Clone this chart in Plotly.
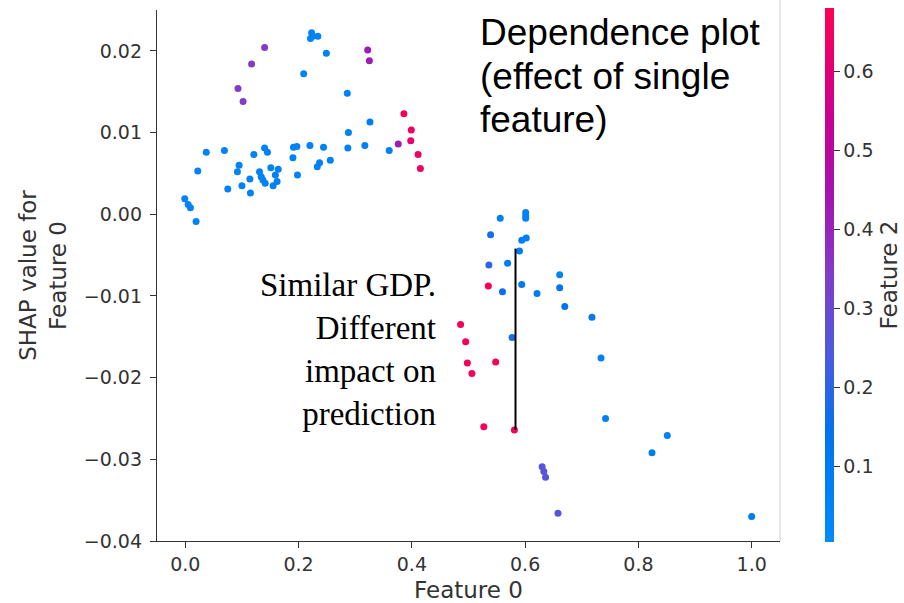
import plotly.graph_objects as go

# ---- data ----
feature0 = [
    # upper-left blue cluster
    -0.001, 0.005, 0.009, 0.019, 0.022, 0.037, 0.069, 0.075, 0.092, 0.095,
    0.100, 0.114, 0.115, 0.121, 0.131, 0.134, 0.137, 0.141, 0.140, 0.145,
    0.151, 0.155, 0.159, 0.162, 0.164, 0.190, 0.191, 0.197, 0.198, 0.220,
    0.233, 0.237, 0.244, 0.256, 0.287, 0.288, 0.317, 0.326, 0.360,
    # upper blue
    0.209, 0.223, 0.221, 0.225, 0.234, 0.249, 0.286,
    # upper purple
    0.093, 0.102, 0.117, 0.140, 0.322, 0.325,
    # magenta / red right of cluster
    0.376, 0.386, 0.399, 0.398, 0.411, 0.415,
    # lower-right group
    0.556, 0.601, 0.601, 0.601, 0.539, 0.594, 0.602, 0.590, 0.536, 0.569,
    0.535, 0.560, 0.594, 0.621, 0.661, 0.661, 0.670, 0.718, 0.486, 0.495,
    0.577, 0.498, 0.548, 0.506, 0.734, 0.742, 0.527, 0.581, 0.851, 0.824,
    0.630, 0.633, 0.636, 0.658, 1.000,
]
shap_values = [
    0.0019, 0.0012, 0.0008, -0.0009, 0.0053, 0.0076, 0.0078, 0.0031, 0.0052, 0.0060,
    0.0035, 0.0043, 0.0026, 0.0073, 0.0052, 0.0046, 0.0042, 0.0038, 0.0081, 0.0076,
    0.0057, 0.0035, 0.0048, 0.0040, 0.0055, 0.0069, 0.0082, 0.0083, 0.0048, 0.0084,
    0.0058, 0.0063, 0.0082, 0.0066, 0.0081, 0.0100, 0.0084, 0.0113, 0.0078,
    0.0172, 0.0222, 0.0215, 0.0218, 0.0218, 0.0197, 0.0148,
    0.0154, 0.0138, 0.0184, 0.0204, 0.0201, 0.0188,
    0.0086, 0.0123, 0.0103, 0.0090, 0.0073, 0.0056,
    -0.0005, 0.0002, -0.0002, -0.0005, -0.0025, -0.0032, -0.0029, -0.0045, -0.0062, -0.0060,
    -0.0088, -0.0095, -0.0086, -0.0097, -0.0074, -0.0090, -0.0113, -0.0126, -0.0135, -0.0156,
    -0.0151, -0.0182, -0.0181, -0.0195, -0.0176, -0.0250, -0.0260, -0.0264, -0.0271, -0.0292,
    -0.0309, -0.0315, -0.0322, -0.0366, -0.0370,
]
feature2 = [
    0.05, 0.05, 0.05, 0.05, 0.06, 0.05, 0.05, 0.06, 0.05, 0.06,
    0.05, 0.06, 0.05, 0.06, 0.05, 0.06, 0.05, 0.06, 0.05, 0.06,
    0.05, 0.06, 0.05, 0.06, 0.05, 0.06, 0.05, 0.06, 0.05, 0.06,
    0.06, 0.06, 0.06, 0.05, 0.06, 0.06, 0.06, 0.07, 0.06,
    0.05, 0.05, 0.05, 0.05, 0.05, 0.06, 0.06,
    0.34, 0.34, 0.34, 0.34, 0.42, 0.42,
    0.42, 0.66, 0.64, 0.62, 0.64, 0.64,
    0.05, 0.05, 0.05, 0.05, 0.17, 0.08, 0.08, 0.09, 0.20, 0.09,
    0.66, 0.16, 0.10, 0.10, 0.05, 0.13, 0.13, 0.10, 0.66, 0.66,
    0.17, 0.66, 0.66, 0.66, 0.06, 0.06, 0.66, 0.66, 0.06, 0.07,
    0.26, 0.26, 0.26, 0.26, 0.07,
]

# highlight segment (similar GDP, different impact)
line_x = [0.583, 0.583]
line_y = [-0.0042, -0.0264]

x_ticks = [0.0, 0.2, 0.4, 0.6, 0.8, 1.0]
x_ticklabels = ["0.0", "0.2", "0.4", "0.6", "0.8", "1.0"]
y_ticks = [0.02, 0.01, 0.0, -0.01, -0.02, -0.03, -0.04]
y_ticklabels = ["0.02", "0.01", "0.00", "\u22120.01", "\u22120.02", "\u22120.03", "\u22120.04"]
cb_ticks = [0.1, 0.2, 0.3, 0.4, 0.5, 0.6]

title_lines = ["Dependence plot", "(effect of single", "feature)"]

red_blue = [
    [0.0, "rgb(0,139,251)"],
    [0.2, "rgb(0,115,238)"],
    [0.35, "rgb(75,90,222)"],
    [0.5, "rgb(130,60,200)"],
    [0.65, "rgb(165,20,175)"],
    [0.8, "rgb(200,0,145)"],
    [1.0, "rgb(255,0,81)"],
]

FONT = "DejaVu Sans"
GREY = "#333333"

fig = go.Figure()
fig.add_trace(go.Scatter(
    x=feature0, y=shap_values, mode="markers",
    marker=dict(
        size=7, color=feature2, colorscale=red_blue, cmin=0.005, cmax=0.68,
        line=dict(width=0),
        colorbar=dict(
            title=dict(text="Feature 2", side="right",
                       font=dict(family=FONT, size=23, color=GREY)),
            thickness=9, thicknessmode="pixels",
            len=534, lenmode="pixels",
            x=1.0722, xanchor="left", xpad=0,
            y=0.501, yanchor="middle", ypad=0,
            outlinewidth=0,
            tickvals=cb_ticks, ticktext=[f"{v:.1f}" for v in cb_ticks],
            ticks="outside", ticklen=6, tickwidth=1, tickcolor=GREY,
            tickfont=dict(family=FONT, size=19, color=GREY),
        ),
    ),
    showlegend=False, hoverinfo="skip",
))
fig.add_trace(go.Scatter(
    x=line_x, y=line_y, mode="lines",
    line=dict(color="black", width=2), showlegend=False, hoverinfo="skip",
))

fig.add_annotation(
    xref="paper", yref="paper",
    x=(438 - 157) / 623, y=(541 - 265) / 531,
    xanchor="right", yanchor="top", align="right",
    text="Similar GDP.<br>Different<br>impact on<br>prediction",
    font=dict(family="Liberation Serif", size=33, color="black"),
    showarrow=False,
)
for i, line in enumerate(title_lines):
    top_px = 10 + 43.5 * i
    fig.add_annotation(
        xref="paper", yref="paper",
        x=(478 - 157) / 623, y=(541 - top_px) / 531,
        xanchor="left", yanchor="top", align="left",
        text=line,
        font=dict(family="Liberation Sans", size=37, color="black"),
        showarrow=False,
    )

# thin right border line seen in reference
fig.add_shape(type="line", xref="paper", yref="paper",
              x0=1.0, x1=1.0, y0=0, y1=541 / 531,
              line=dict(color="#cccccc", width=1))

fig.update_layout(
    width=904, height=603,
    margin=dict(l=157, r=124, t=10, b=62, autoexpand=False),
    paper_bgcolor="white", plot_bgcolor="white",
    font=dict(family=FONT, color=GREY),
)
fig.update_xaxes(
    range=[-0.05, 1.05], tickvals=x_ticks, ticktext=x_ticklabels,
    showgrid=False, zeroline=False,
    showline=True, linecolor=GREY, linewidth=1.3,
    ticks="outside", ticklen=6, tickcolor=GREY, tickwidth=1.3,
    tickfont=dict(family=FONT, size=19, color=GREY),
    title=dict(text="Feature 0", font=dict(family=FONT, size=23, color=GREY), standoff=11),
    automargin=False,
)
fig.update_yaxes(
    range=[-0.04, 0.025], tickvals=y_ticks, ticktext=y_ticklabels,
    showgrid=False, zeroline=False,
    showline=True, linecolor=GREY, linewidth=1.3,
    ticks="outside", ticklen=6, tickcolor=GREY, tickwidth=1.3,
    ticklabelstandoff=4,
    tickfont=dict(family=FONT, size=19, color=GREY),
    title=dict(text="SHAP value for<br>Feature 0",
               font=dict(family=FONT, size=23, color=GREY), standoff=10),
    automargin=False,
)

fig.write_html("out.html")
